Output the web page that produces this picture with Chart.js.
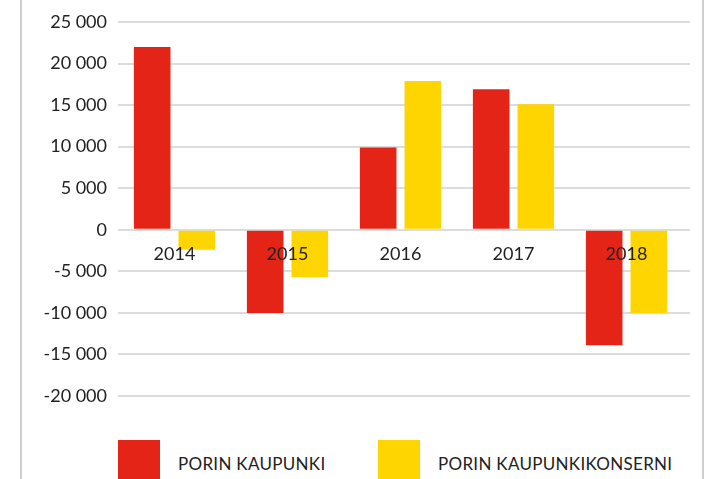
<!DOCTYPE html>
<html>
<head>
<meta charset="utf-8">
<script src="https://cdn.jsdelivr.net/npm/chart.js@4"></script>
<style>
  html, body { margin: 0; padding: 0; background: #fff; }
  body { width: 706px; height: 479px; position: relative; overflow: hidden; font-family: Lato, sans-serif; }
  .edge { position: absolute; top: 0; bottom: 0; width: 2px; background: #cfcfcf; }
  #wrap { position: absolute; left: 0; top: 0; width: 706px; height: 420px; }
  .legend-item { position: absolute; top: 440px; height: 42px; display: flex; align-items: center; }
  .legend-box { width: 42px; height: 42px; margin-right: 18px; }
  .legend-text { font-size: 17px; color: #222; letter-spacing: 0.3px; padding-top: 4px; }
</style>
</head>
<body>
<div class="edge" style="left:20px"></div>
<div class="edge" style="left:702px"></div>
<div id="wrap"><canvas id="chart"></canvas></div>
<div id="legend"></div>
<script>
const years = ["2014", "2015", "2016", "2017", "2018"];
const kaupunki = [22000, -10000, 9900, 16900, -13900];
const konserni = [-2400, -5700, 17900, 15100, -10000];
const seriesLabels = ["PORIN KAUPUNKI", "PORIN KAUPUNKIKONSERNI"];
const colors = ["#E32416", "#FFD500"];
const legendLeft = [118, 378];

// gridlines run a bit further right than the last category
const shortenX = {
  id: "shortenX",
  afterLayout(chart) {
    const x = chart.scales.x;
    x.right -= 7;
    x.width = x.right - x.left;
    x.configure();
  },
};

const ctx = document.getElementById("chart");

new Chart(ctx, {
  type: "bar",
  data: {
    labels: years,
    datasets: [
      {
        label: seriesLabels[0],
        data: kaupunki,
        backgroundColor: colors[0],
        categoryPercentage: 0.79,
        barPercentage: 0.82,
      },
      {
        label: seriesLabels[1],
        data: konserni,
        backgroundColor: colors[1],
        categoryPercentage: 0.79,
        barPercentage: 0.82,
      },
    ],
  },
  options: {
    responsive: true,
    maintainAspectRatio: false,
    animation: false,
    layout: {
      padding: { top: 22, right: 16, bottom: 24, left: 0 },
    },
    plugins: {
      legend: { display: false },
      tooltip: { enabled: false },
    },
    scales: {
      x: {
        position: { y: 0 },
        afterFit: (axis) => { axis.height = 0; },
        grid: { display: false, drawTicks: false },
        border: { display: false },
        ticks: {
          z: 1,
          color: "#222",
          font: { family: "Lato", size: 18 },
          padding: 14,
        },
      },
      y: {
        min: -20000,
        max: 25000,
        afterFit: (axis) => { axis.width = 118; },
        grid: { color: "#dcdcdc", lineWidth: 2, drawTicks: false },
        border: { display: false },
        ticks: {
          stepSize: 5000,
          color: "#222",
          font: { family: "Lato", size: 18 },
          padding: 11,
          callback: (value) => String(value).replace(/\B(?=(\d{3})+(?!\d))/g, " "),
        },
      },
    },
  },
  plugins: [shortenX],
});

// legend below the chart
const legend = document.getElementById("legend");
seriesLabels.forEach((label, i) => {
  const item = document.createElement("div");
  item.className = "legend-item";
  item.style.left = legendLeft[i] + "px";
  item.innerHTML = '<div class="legend-box" style="background:' + colors[i] + '"></div>' +
    '<div class="legend-text">' + label + "</div>";
  legend.appendChild(item);
});
</script>
</body>
</html>
